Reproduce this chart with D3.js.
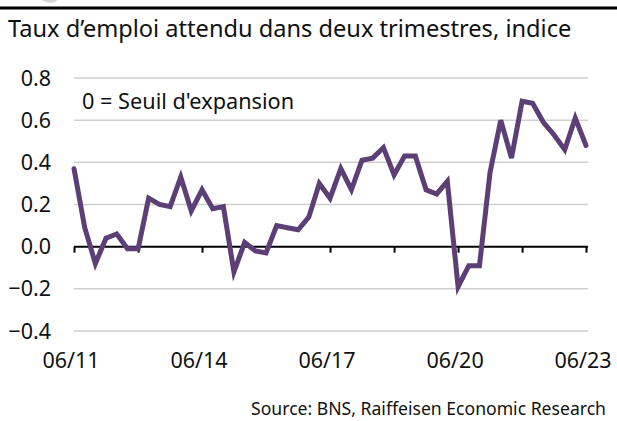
<!DOCTYPE html>
<html>
  <head>
    <meta charset="utf-8">
    <script src="https://cdn.jsdelivr.net/npm/d3@7/dist/d3.min.js"></script>
    <style>
      body { margin: 0; background: #fff; }
      text { font-family: 'Noto Sans', 'Open Sans', sans-serif; fill: #111; }
    </style>
  </head>
  <body>
    <svg width="617" height="421"></svg>
    <script>
      // valeurs trimestrielles, 06/11 .. 06/23
      const values = [
        0.37, 0.09, -0.08, 0.04, 0.06, -0.01, -0.01, 0.23, 0.20, 0.19,
        0.33, 0.17, 0.27, 0.18, 0.19, -0.12, 0.02, -0.02, -0.03, 0.10,
        0.09, 0.08, 0.14, 0.30, 0.23, 0.37, 0.27, 0.41, 0.42, 0.47,
        0.34, 0.43, 0.43, 0.27, 0.25, 0.31, -0.19, -0.09, -0.09, 0.35,
        0.60, 0.42, 0.69, 0.68, 0.59, 0.53, 0.46, 0.61, 0.48
      ]
      const yTicks = [-0.4, -0.2, 0.0, 0.2, 0.4, 0.6, 0.8]
      const xLabels = ['06/11', '06/14', '06/17', '06/20', '06/23']
      const title = 'Taux d\u2019emploi attendu dans deux trimestres, indice'
      const note = "0 = Seuil d'expansion"
      const source = 'Source: BNS, Raiffeisen Economic Research'

      const svg = d3.select('svg')

      // dates de chaque trimestre
      const dates = d3.timeMonth.range(new Date(2011, 5, 1), new Date(2023, 6, 1), 3)
      const data = dates.map((d, i) => ({ date: d, value: values[i] }))

      const x = d3.scaleTime()
        .domain([dates[0], dates[dates.length - 1]])
        .range([74, 586])
      const y = d3.scaleLinear().domain([-0.4, 0.8]).range([331, 78])

      // bandeau du haut
      svg.append('circle').attr('cx', 50).attr('cy', -9).attr('r', 12).attr('fill', '#d8d8d8')
      svg.append('rect').attr('x', 0).attr('y', 6.5).attr('width', 617).attr('height', 3).attr('fill', '#000')

      svg.append('text')
        .attr('x', 8).attr('y', 37)
        .style('font-size', '23.6px')
        .text(title)

      // grille horizontale
      svg.append('g')
        .selectAll('line')
        .data(yTicks.filter((d) => d !== 0))
        .enter()
        .append('line')
        .attr('x1', 74).attr('x2', 588)
        .attr('y1', (d) => y(d)).attr('y2', (d) => y(d))
        .attr('stroke', '#cfcfcf')
        .attr('stroke-width', 1.5)

      // libellés axe y
      svg.append('g')
        .selectAll('text')
        .data(yTicks)
        .enter()
        .append('text')
        .attr('x', 51)
        .attr('y', (d) => y(d) + 7.5)
        .attr('text-anchor', 'end')
        .style('font-size', '21.5px')
        .text((d) => d3.format('.1f')(d))

      // axe zéro avec graduations tous les 18 mois
      const tickDates = d3.timeMonth.range(dates[0], new Date(2023, 6, 1), 18)
      const xAxis = d3.axisBottom(x)
        .tickValues(tickDates)
        .tickSize(6)
        .tickFormat('')
      const gx = svg.append('g')
        .attr('transform', `translate(0,${y(0)})`)
        .call(xAxis)
      gx.select('.domain').attr('stroke', '#000').attr('stroke-width', 2)
        .attr('d', `M74,0H588`)
      gx.selectAll('.tick line').attr('stroke', '#000').attr('stroke-width', 2)

      // libellés axe x
      const labelDates = d3.timeMonth.range(dates[0], new Date(2023, 6, 1), 36)
      svg.append('g')
        .selectAll('text')
        .data(labelDates)
        .enter()
        .append('text')
        .attr('x', (d) => x(d) - 3)
        .attr('y', 368)
        .attr('text-anchor', 'middle')
        .style('font-size', '21.5px')
        .text((d, i) => xLabels[i])

      // courbe
      const line = d3.line()
        .x((d) => x(d.date))
        .y((d) => y(d.value))
      svg.append('path')
        .datum(data)
        .attr('d', line)
        .attr('fill', 'none')
        .attr('stroke', '#5c3f74')
        .attr('stroke-width', 5)
        .attr('stroke-linejoin', 'miter')
        .attr('stroke-linecap', 'round')

      svg.append('text')
        .attr('x', 82).attr('y', 109)
        .style('font-size', '21.7px')
        .text(note)

      svg.append('text')
        .attr('x', 606).attr('y', 415)
        .attr('text-anchor', 'end')
        .style('font-size', '17.6px')
        .text(source)
    </script>
  </body>
</html>
